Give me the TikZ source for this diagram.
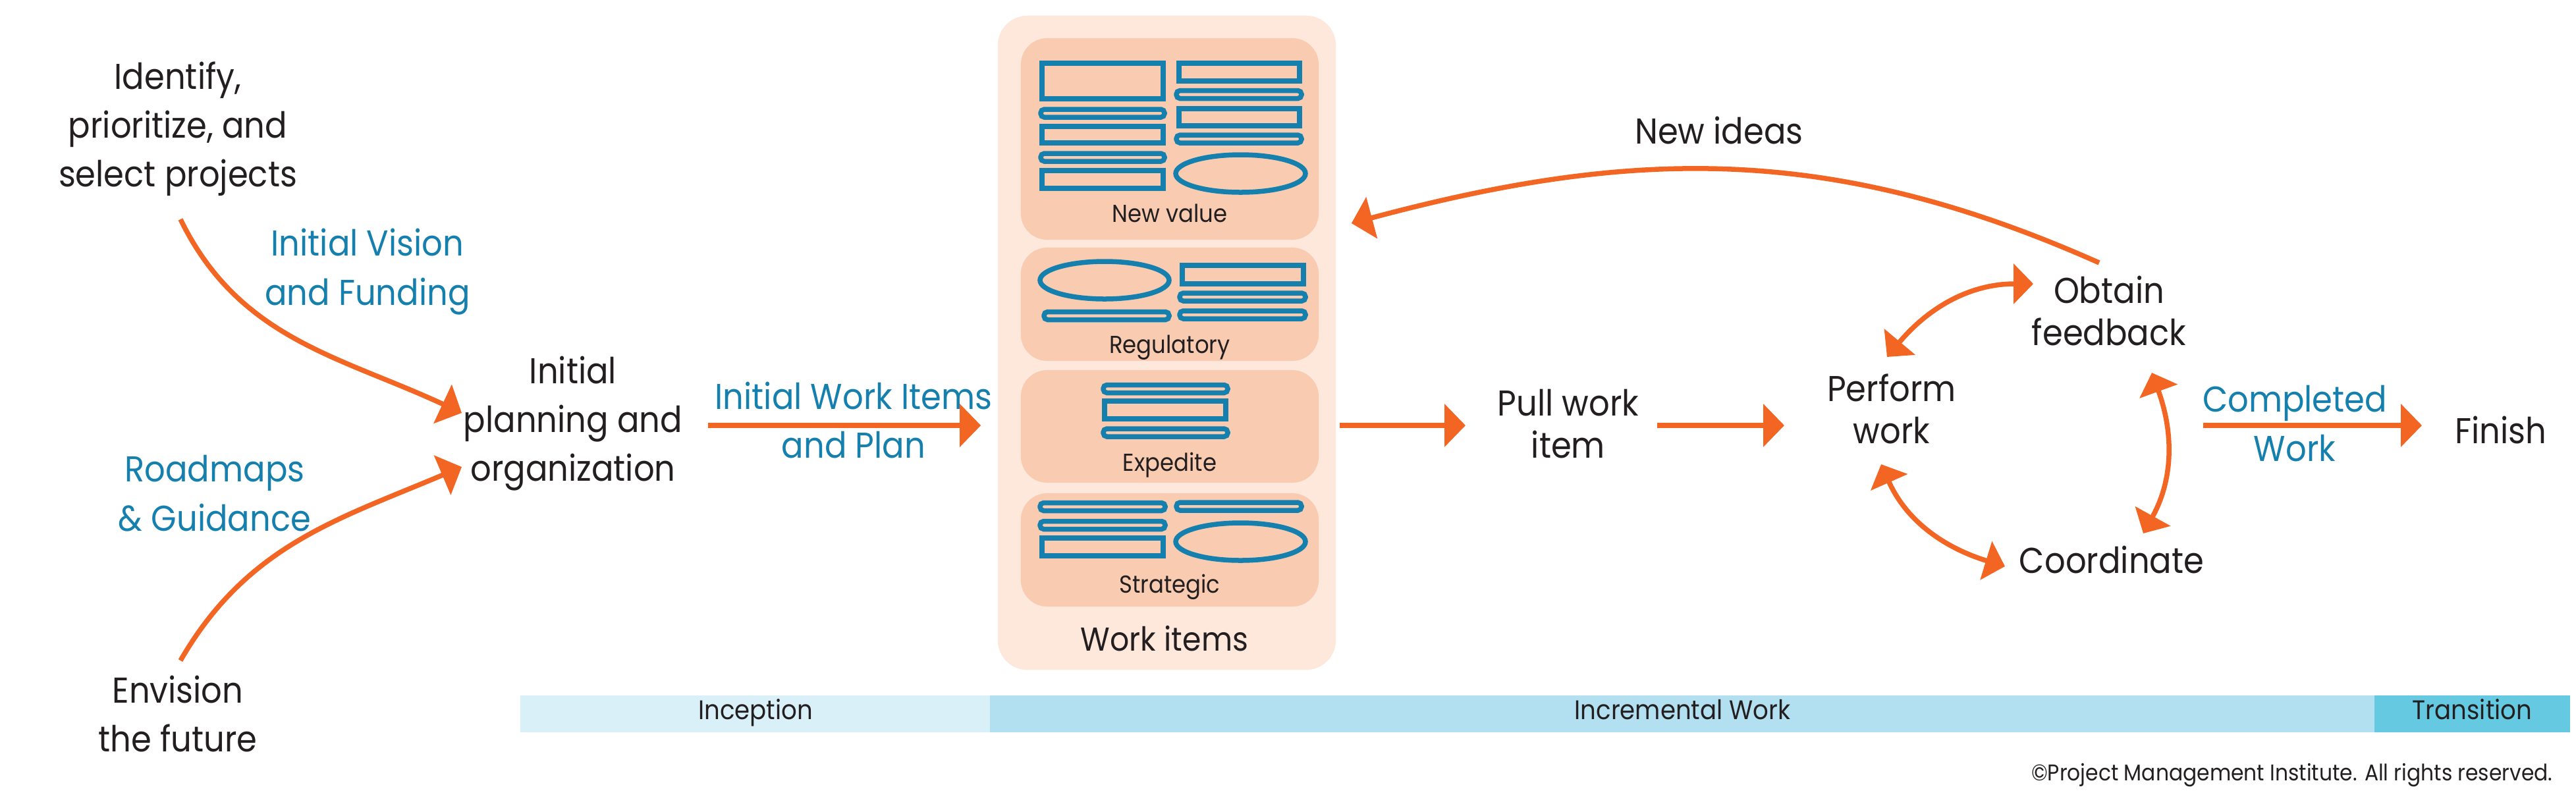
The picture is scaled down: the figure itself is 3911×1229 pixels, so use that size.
\documentclass[tikz,border=0pt]{standalone}
\usepackage{fontspec}
\setmainfont{Poppins}[FakeStretch=0.91]
\usetikzlibrary{arrows.meta, calc}

\definecolor{pmiorange}{HTML}{F26522}
\definecolor{pmiblue}{HTML}{1580AD}
\definecolor{inktext}{HTML}{231F20}
\definecolor{peachlight}{HTML}{FEE7DB}
\definecolor{peach}{HTML}{F9CCB2}
\definecolor{phaseA}{HTML}{DAF0F8}
\definecolor{phaseB}{HTML}{B2E0F1}
\definecolor{phaseC}{HTML}{66C9E2}

% icons inside the work item boxes (x1,y1,x2,y2 in px, y down)
\newcommand{\wrect}[4]{\draw[icon] (#1,-#2) rectangle (#3,-#4);}
\newcommand{\wpill}[3]{\draw[icon, rounded corners=0.055cm] (#1,-#3+6) rectangle (#2,-#3-6);}
\newcommand{\woval}[4]{\draw[icon] (#1,-#2) ellipse [x radius=#3, y radius=#4];}

\begin{document}
\begin{tikzpicture}[x=0.01cm, y=0.01cm]

    \useasboundingbox (0,0) rectangle (3911,-1229);

    \tikzset{
        lbl/.style={align=center, inner sep=0, text=inktext, font=\fontsize{15.5}{21}\selectfont},
        tight/.style={lbl, font=\fontsize{15.5}{18.2}\selectfont},
        note/.style={lbl, text=pmiblue, font=\fontsize{15.5}{21.3}\selectfont},
        boxtxt/.style={inner sep=0, text=inktext, font=\fontsize{10.6}{12}\selectfont, anchor=base},
        flow/.style={-{Triangle[length=0.32cm, width=0.64cm]}, line width=0.075cm, draw=pmiorange},
        twoway/.style={flow, {Triangle[length=0.3cm, width=0.6cm]}-{Triangle[length=0.3cm, width=0.6cm]}},
        icon/.style={draw=pmiblue, line width=0.075cm},
        itembox/.style={fill=peach, rounded corners=0.4cm, minimum width=4.52cm, inner sep=0},
        phase/.style={minimum height=0.56cm, inner sep=0, text height=0.75em, text depth=0.25em,
            text=inktext, font=\fontsize{11.6}{13}\selectfont}
    }

    % Left side
    \node[lbl] (idf) at (270,-196) {Identify,\\prioritize, and\\select projects};
    \node[lbl] (env) at (270,-1084) {Envision\\the future};
    \node[lbl] (plan) at (870,-643) {Initial\\planning and\\organization};
    \node[note] (vision) at (558,-413) {Initial Vision\\and Funding};
    \node[note] (road) at (326,-749) {Roadmaps\\\& Guidance};

    \draw[flow] ($(idf)+(4,-137)$) to[out=-64, in=155] ($(plan)+(-169,16)$);
    \draw[flow] ($(env)+(4,81)$) to[out=60, in=203] ($(plan)+(-169,-66)$);

    % Work items
    \node[fill=peachlight, rounded corners=0.45cm, minimum width=5.13cm, minimum height=9.93cm] (wbox) at (1771.5,-520.5) {};
    \node[itembox, minimum height=3.06cm] (newval) at (1776,-211) {};
    \node[itembox, minimum height=1.72cm] (regul) at (1776,-462) {};
    \node[itembox, minimum height=1.71cm] (exped) at (1776,-647.5) {};
    \node[itembox, minimum height=1.72cm] (strat) at (1776,-835) {};

    \node[boxtxt] (newvaltxt) at (1776,-337) {New value};
    \node[boxtxt] (regultxt) at (1776,-536) {Regulatory};
    \node[boxtxt] (expedtxt) at (1776,-715) {Expedite};
    \node[boxtxt] (strattxt) at (1776,-900) {Strategic};
    \node[lbl, anchor=base, font=\fontsize{14.3}{17}\selectfont] (witems) at (1768,-988) {Work items};

    % New value
    \wrect{1582}{96}{1766}{150}
    \wpill{1580}{1768}{172}
    \wrect{1582}{192}{1766}{217}
    \wpill{1580}{1768}{239}
    \wrect{1582}{259}{1766}{286}
    \wrect{1790}{96}{1973}{123}
    \wpill{1786}{1976}{143.5}
    \wrect{1790}{165}{1973}{191}
    \wpill{1786}{1976}{211}
    \woval{1883.5}{263.5}{98.5}{28.5}

    % Regulatory
    \woval{1677}{425.5}{98}{28.5}
    \wpill{1585}{1775}{479.5}
    \wrect{1795}{403}{1979}{431}
    \wpill{1791}{1982}{451}
    \wpill{1791}{1982}{478}

    % Expedite
    \wpill{1675}{1864}{590.5}
    \wrect{1677}{609}{1861}{636}
    \wpill{1675}{1864}{657}

    % Strategic
    \wpill{1579}{1769}{769.5}
    \wpill{1579}{1769}{797.5}
    \wrect{1582}{817}{1766}{844}
    \wpill{1786}{1976}{769}
    \woval{1883.5}{822.5}{98.5}{28.5}

    \node[note] (wlbl) at (1296,-638) {Initial Work Items\\and Plan};
    \draw[flow] ($(plan)+(205,-3)$) -- ($(wbox.west)+(-25,-125.5)$);

    % Delivery cycle
    \node[tight] (pull) at (2381,-644) {Pull work\\item};
    \node[tight] (perform) at (2872,-621) {Perform\\work};
    \node[tight] (obtain) at (3202,-472) {Obtain\\feedback};
    \node[lbl, anchor=base] (coord) at (3206,-870) {Coordinate};
    \node[lbl, anchor=base] (newideas) at (2610,-218) {New ideas};
    \node[lbl, anchor=west] (finish) at (3727,-653) {Finish};
    \node[note] (done) at (3484,-643) {Completed\\Work};
    \coordinate (cycout) at (3345,-646);

    \draw[flow] ($(wbox.east)+(5,-125.5)$) -- ($(pull)+(-156,-2)$);
    \draw[flow] ($(pull)+(135,-2)$) -- ($(perform)+(-163,-25)$);
    \draw[twoway] ($(perform)+(-7,79)$) to[out=50, in=180] ($(obtain)+(-115,41)$);
    \draw[twoway] ($(perform)+(-16,-84)$) to[out=-66, in=163] ($(coord.base)+(-162,10)$);
    \draw[twoway] ($(obtain)+(65,-94)$) to[out=-70, in=61] ($(coord.base)+(48,60)$);
    \draw[flow] ($(obtain)+(-15,73)$) to[out=156, in=15] ($(wbox.east)+(23,181.5)$);
    \draw[flow] (cycout) -- ($(finish.west)+(-50,7)$);

    % Phases
    \node[phase, fill=phaseA, minimum width=7.14cm] (incep) at (1147,-1084) {Inception};
    \node[phase, fill=phaseB, minimum width=21.01cm] (incr) at (2554.5,-1084) {Incremental Work};
    \node[phase, fill=phaseC, minimum width=2.97cm] (trans) at (3753.5,-1084) {Transition};

    \node[anchor=base east, inner sep=0, text=inktext, font=\fontsize{9.8}{11}\selectfont] (rights) at (3876,-1185) {©Project Management Institute. All rights reserved.};

\end{tikzpicture}
\end{document}
